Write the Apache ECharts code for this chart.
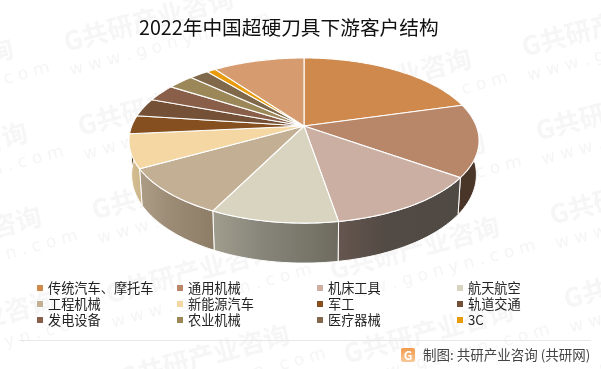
<!DOCTYPE html>
<html>
<head>
<meta charset="utf-8">
<title>2022年中国超硬刀具下游客户结构</title>
<style>
    html, body { margin: 0; padding: 0; background: #fff; }
    #chart { width: 601px; height: 369px; }
</style>
</head>
<body>
<div id="chart"></div>
<script src="https://cdn.jsdelivr.net/npm/echarts@6/dist/echarts.min.js"></script>
<script>
// 数据
const categories = ['传统汽车、摩托车', '通用机械', '机床工具', '航天航空', '工程机械', '新能源汽车', '军工', '轨道交通', '发电设备', '农业机械', '医疗器械', '3C', '其他'];
const shares = [20.6, 14.2, 12.5, 10, 9.5, 6.6, 3.6, 3.6, 3.3, 2.9, 2.1, 1, 10];

// 图例分四列
const legendColumns = [
    ['传统汽车、摩托车', '工程机械', '发电设备'],
    ['通用机械', '新能源汽车', '农业机械'],
    ['机床工具', '军工', '医疗器械'],
    ['航天航空', '轨道交通', '3C']
];
const legendLefts = [37, 177, 317, 457];

// 颜色
const topColors = ['#d0894d', '#b8876a', '#cbafa3', '#d8d4c0', '#c3af93', '#f4d7a3', '#854f20', '#735036', '#8a5f49', '#9c8758', '#80684a', '#e89b0c', '#d69c6f'];
const wallFrom = ['#6e4a2a', '#4a3628', '#66564f', '#a19e8e', '#ae9d86', '#d9c294', '#5a3616', '#4e3625', '#5e4032', '#6a5c3c', '#574732', '#9e6908', '#91694b'];
const wallMid = ['#6e4a2a', '#4a3628', '#524a44', '#87847a', '#9c8c76', '#d2bb8e', '#5a3616', '#4e3625', '#5e4032', '#6a5c3c', '#574732', '#9e6908', '#91694b'];
const wallTo = ['#6e4a2a', '#4a3628', '#504a44', '#6e6b5e', '#8d7d67', '#cbb487', '#5a3616', '#4e3625', '#5e4032', '#6a5c3c', '#574732', '#9e6908', '#91694b'];

const fontCn = '"Noto Sans CJK SC", "Noto Sans", sans-serif';
const total = shares.reduce((a, b) => a + b, 0);

// 透视椭圆的参数
const pie = { x: 304, y: 126, rx: 172.3, ry: 80, k: 0.176 };

// 圆盘上的角度(从正上方顺时针)投影到画布
function rim(theta, bottom) {
    let u = Math.sin(theta),
        v = -Math.cos(theta),
        w = 1 - pie.k * v,
        px = pie.rx * u / w,
        py = pie.ry * v / w;
    if (bottom) {
        return [pie.x + px * 0.985, pie.y + py + 33 + 7 * v];
    }
    return [pie.x + px, pie.y + py];
}

function arc(from, to, bottom) {
    let pts = [],
        n = Math.max(2, Math.ceil((to - from) / (Math.PI / 180)));
    for (let i = 0; i <= n; i++) {
        pts.push(rim(from + (to - from) * i / n, bottom));
    }
    return pts;
}

function sliceSeries(name, i) {
    let before = shares.slice(0, i).reduce((a, b) => a + b, 0);
    return {
        name: name,
        type: 'custom',
        coordinateSystem: 'none',
        itemStyle: { color: topColors[i] },
        data: [shares[i]],
        silent: true,
        renderItem: (params, api) => {
            let start = before / total * Math.PI * 2,
                end = (before + api.value(0)) / total * Math.PI * 2,
                top = arc(start, end, false),
                low = arc(start, end, true).reverse();
            return {
                type: 'group',
                children: [
                    {
                        type: 'polygon',
                        z2: 1,
                        shape: { points: top.concat(low) },
                        style: {
                            fill: new echarts.graphic.LinearGradient(0, 0, 1, 0, [
                                { offset: 0, color: wallFrom[i] },
                                { offset: 0.4, color: wallMid[i] },
                                { offset: 1, color: wallTo[i] }
                            ]),
                            stroke: '#fff',
                            lineWidth: 1
                        }
                    },
                    {
                        type: 'polygon',
                        z2: 2,
                        shape: { points: [[pie.x, pie.y]].concat(top) },
                        style: { fill: topColors[i], stroke: '#fff', lineWidth: 1.1 }
                    }
                ]
            };
        }
    };
}

// 水印
const markOrigins = [[-155, 95], [65, 45], [303, 105], [523, 50]];
function watermark(x, y) {
    return {
        type: 'group',
        x: x,
        y: y,
        rotation: 15 * Math.PI / 180,
        silent: true,
        children: [
            { type: 'text', style: { x: 0, y: -16, text: 'G共研产业咨询', fill: '#f6f6f6', font: 'bold 26px ' + fontCn } },
            { type: 'text', style: { x: -2, y: 18, text: 'w w w . g o n y n . c o m', fill: '#f5f5f5', font: '17px "DejaVu Sans", sans-serif' } }
        ]
    };
}
let marks = [];
markOrigins.forEach(o => {
    for (let r = 0; r < 5; r++) {
        marks.push(watermark(o[0] + r * 14, o[1] + r * 84));
    }
});

let myChart = echarts.init(document.getElementById('chart'));
myChart.setOption({
    animation: false,
    backgroundColor: '#fff',
    title: {
        text: '2022年中国超硬刀具下游客户结构',
        left: 139,
        top: 18,
        padding: 0,
        textStyle: { fontFamily: fontCn, fontSize: 19.7, fontWeight: 'normal', color: '#111' }
    },
    legend: legendColumns.map((names, i) => ({
        data: names,
        orient: 'vertical',
        left: legendLefts[i],
        top: 280,
        padding: 0,
        itemGap: 0,
        itemWidth: 6,
        itemHeight: 6,
        icon: 'rect',
        selectedMode: false,
        textStyle: { fontFamily: fontCn, fontSize: 13.2, color: '#222', lineHeight: 16, height: 16 }
    })),
    graphic: marks.concat([
        {
            type: 'line',
            shape: { x1: 19, y1: 340.5, x2: 591, y2: 340.5 },
            style: { stroke: '#e8e8e8', lineWidth: 1 },
            silent: true
        },
        {
            type: 'rect',
            shape: { x: 401, y: 348, width: 14, height: 14, r: 2 },
            style: {
                fill: new echarts.graphic.LinearGradient(0, 0, 0, 1, [
                    { offset: 0, color: '#f39a4c' },
                    { offset: 1, color: '#f9c99a' }
                ])
            },
            silent: true
        },
        {
            type: 'text',
            style: { x: 408, y: 355, text: 'G', fill: '#fff', font: 'bold 12px ' + fontCn, align: 'center', verticalAlign: 'middle' },
            silent: true
        },
        {
            type: 'text',
            style: { x: 423, y: 355, text: '制图: 共研产业咨询 (共研网)', fill: '#444', font: '13.5px ' + fontCn, verticalAlign: 'middle' },
            silent: true
        }
    ]),
    series: categories.map(sliceSeries)
});
</script>
</body>
</html>
